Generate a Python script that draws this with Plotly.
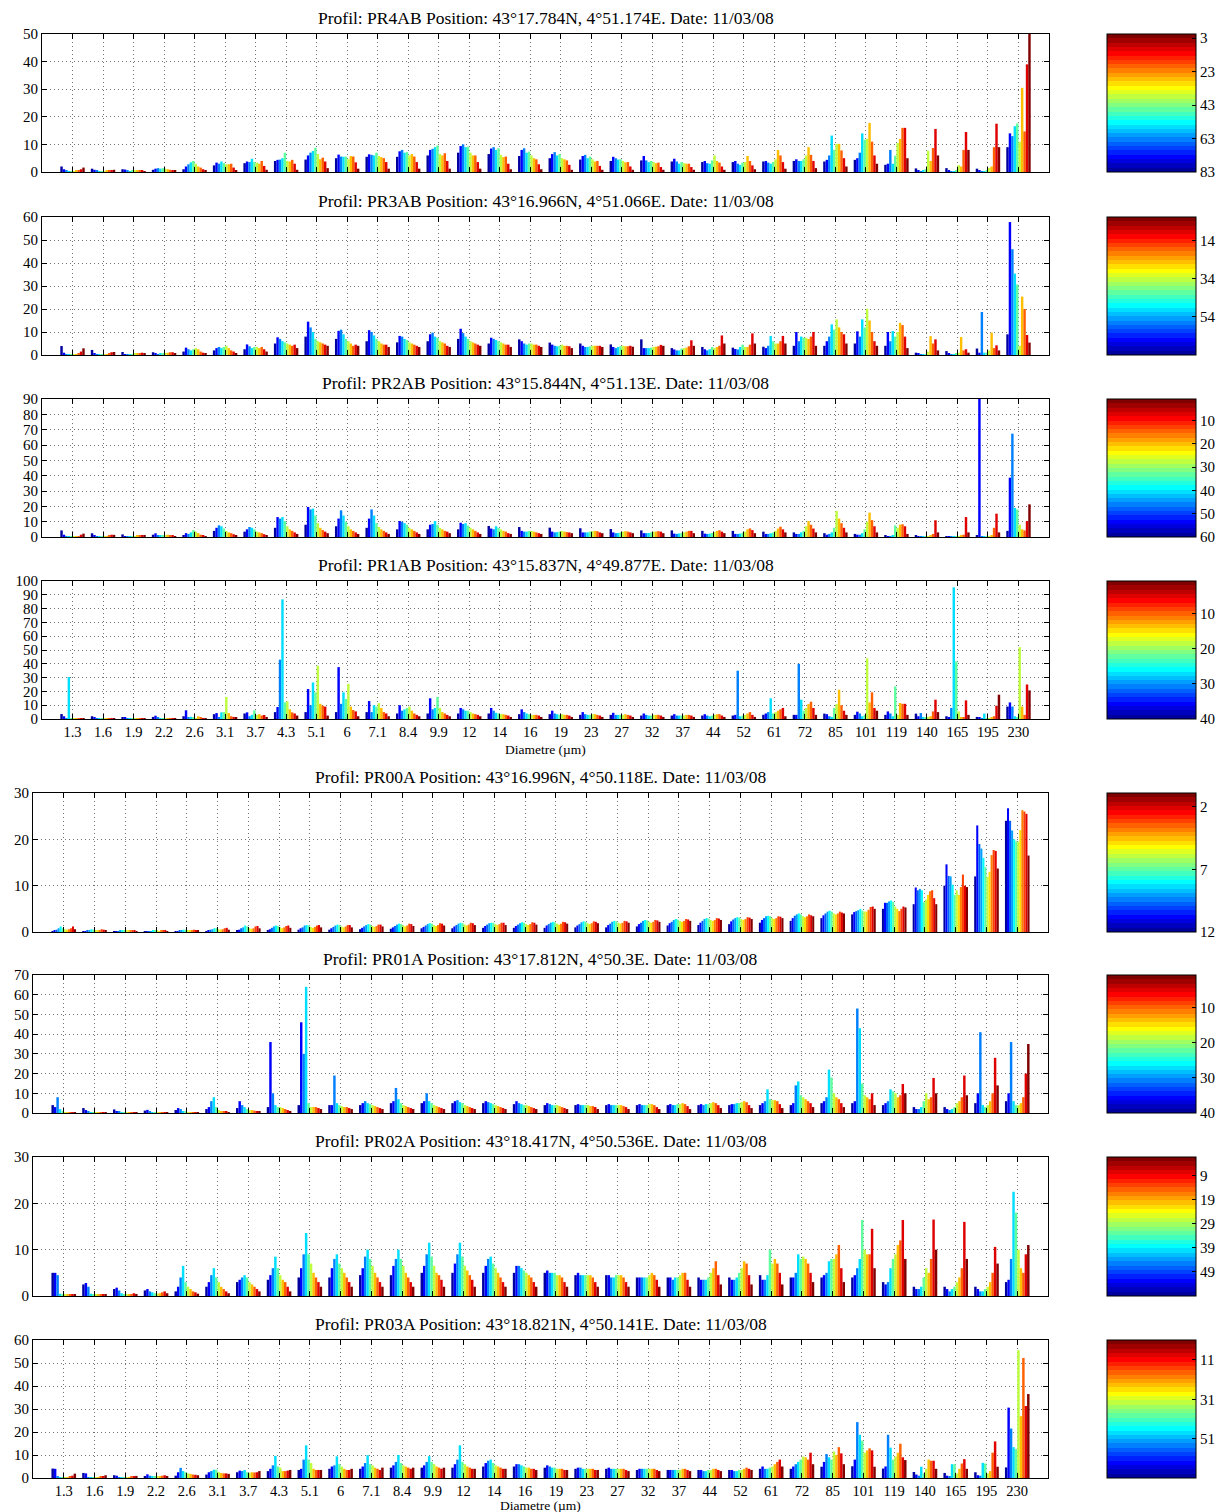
import math
import plotly.graph_objects as go

# ---------------- data ----------------
DIAM_LABELS = ["1.3", "1.6", "1.9", "2.2", "2.6", "3.1", "3.7", "4.3", "5.1", "6", "7.1", "8.4",
               "9.9", "12", "14", "16", "19", "23", "27", "32", "37", "44", "52", "61", "72",
               "85", "101", "119", "140", "165", "195", "230"]

TITLES = [
    "Profil: PR4AB Position: 43°17.784N, 4°51.174E. Date: 11/03/08",
    "Profil: PR3AB Position: 43°16.966N, 4°51.066E. Date: 11/03/08",
    "Profil: PR2AB Position: 43°15.844N, 4°51.13E. Date: 11/03/08",
    "Profil: PR1AB Position: 43°15.837N, 4°49.877E. Date: 11/03/08",
    "Profil: PR00A Position: 43°16.996N, 4°50.118E. Date: 11/03/08",
    "Profil: PR01A Position: 43°17.812N, 4°50.3E. Date: 11/03/08",
    "Profil: PR02A Position: 43°18.417N, 4°50.536E. Date: 11/03/08",
    "Profil: PR03A Position: 43°18.821N, 4°50.141E. Date: 11/03/08",
]

Y_MAX = [50, 60, 90, 100, 30, 70, 30, 60]

CBAR_TICKS = [[3, 23, 43, 63, 83], [14, 34, 54], [10, 20, 30, 40, 50, 60], [10, 20, 30, 40],
              [2, 7, 12], [10, 20, 30, 40], [9, 19, 29, 39, 49], [11, 31, 51]]
DEPTH_MIN = [0.6, 1.4, 0.75, 0.8, 0.9, 0.6, 1.1, 0.9]
DEPTH_MAX = [83, 74, 60, 40, 12, 40, 59, 71]

# volume concentration per size class (rows) for depth bins from deep (blue) to shallow (red)
PR4AB = [
    [2.0, 1.0, 0.5, 0.3, 0.3, 0.3, 0.4, 0.6, 1.0, 1.6],
    [1.2, 0.8, 0.4, 0.3, 0.3, 0.3, 0.4, 0.5, 0.7, 0.8],
    [1.0, 0.9, 0.5, 0.3, 0.4, 0.6, 0.5, 0.4, 0.4, 0.3],
    [0.8, 1.2, 1.4, 1.2, 1.4, 1.2, 1.0, 0.8, 0.6, 0.4],
    [1.0, 2.0, 2.8, 3.5, 4.0, 3.0, 2.0, 1.6, 1.0, 0.4],
    [2.4, 3.4, 3.0, 3.8, 3.2, 2.8, 2.8, 3.0, 1.6, 0.6],
    [3.2, 3.8, 3.6, 4.8, 3.6, 3.4, 3.0, 4.0, 2.2, 0.8],
    [4.0, 4.4, 4.5, 5.0, 7.0, 4.0, 3.8, 4.4, 3.0, 0.8],
    [4.5, 6.0, 7.0, 7.6, 8.8, 6.5, 4.6, 5.2, 3.8, 1.4],
    [5.0, 6.3, 5.6, 5.5, 5.6, 4.6, 5.8, 5.6, 3.5, 1.2],
    [5.5, 6.4, 6.2, 6.0, 7.0, 5.8, 5.4, 5.0, 3.6, 1.2],
    [5.5, 7.5, 8.0, 7.0, 7.2, 6.0, 6.5, 5.6, 3.6, 1.2],
    [6.0, 8.0, 8.4, 9.0, 9.6, 6.5, 6.0, 6.8, 4.0, 1.2],
    [7.0, 9.4, 10.0, 9.0, 9.2, 7.0, 6.0, 6.0, 3.6, 1.2],
    [6.5, 8.5, 9.0, 8.0, 8.6, 6.2, 5.4, 5.6, 3.0, 1.0],
    [5.8, 8.0, 8.6, 7.0, 7.4, 6.0, 5.0, 4.6, 2.8, 1.0],
    [5.0, 6.5, 7.2, 6.0, 6.5, 5.0, 4.6, 4.2, 2.6, 0.8],
    [4.5, 5.8, 6.2, 5.0, 5.6, 4.6, 3.8, 4.0, 2.2, 0.8],
    [4.0, 5.5, 5.0, 4.5, 4.6, 4.0, 3.5, 3.6, 2.0, 0.8],
    [4.2, 5.8, 4.2, 3.6, 4.0, 3.6, 3.2, 3.4, 1.8, 0.8],
    [3.8, 4.8, 3.8, 3.0, 3.6, 3.2, 3.0, 3.0, 1.8, 0.8],
    [3.6, 4.0, 3.2, 3.0, 4.2, 6.0, 4.0, 3.4, 2.0, 0.8],
    [3.6, 4.0, 3.0, 2.6, 3.4, 3.6, 5.8, 4.0, 2.4, 1.0],
    [3.8, 4.0, 3.4, 3.0, 3.6, 4.6, 8.0, 6.0, 3.6, 1.2],
    [4.0, 4.6, 4.0, 4.0, 4.6, 6.0, 9.0, 6.2, 4.0, 1.4],
    [3.8, 4.4, 6.0, 13.2, 8.0, 10.2, 10.2, 7.8, 5.0, 2.0],
    [4.4, 5.0, 7.0, 14.0, 11.7, 12.0, 17.8, 11.0, 6.0, 3.0],
    [2.6, 3.0, 8.0, 3.0, 5.9, 10.5, 12.0, 16.0, 16.0, 5.0],
    [1.3, 0.6, 0.3, 0.4, 1.0, 7.7, 4.0, 8.7, 15.6, 6.0],
    [1.4, 0.4, 0.3, 0.3, 0.6, 2.5, 2.0, 8.0, 14.5, 8.0],
    [1.2, 0.4, 0.3, 0.3, 0.5, 1.5, 2.0, 9.0, 17.5, 9.0],
    [9.0, 14.0, 13.0, 16.6, 17.6, 11.0, 30.5, 14.7, 39.0, 51.0],
]

PR3AB = [
    [3.9, 1.0, 0.3, 0.2, 0.2, 0.2, 0.3, 0.5, 1.5, 2.9],
    [2.2, 0.6, 0.2, 0.2, 0.2, 0.3, 0.4, 0.6, 1.2, 1.3],
    [1.3, 0.4, 0.2, 0.2, 0.3, 0.5, 0.6, 0.8, 1.0, 0.8],
    [1.2, 0.6, 0.4, 0.5, 0.6, 0.8, 1.0, 1.2, 1.2, 0.8],
    [1.5, 3.2, 2.5, 2.0, 2.5, 3.0, 2.5, 1.5, 1.0, 0.5],
    [2.0, 3.0, 3.5, 3.0, 3.5, 4.0, 3.0, 2.0, 1.5, 0.8],
    [2.5, 4.6, 3.8, 3.0, 3.5, 3.5, 3.0, 3.5, 2.5, 1.5],
    [5.0, 7.7, 7.0, 6.0, 5.5, 5.0, 4.5, 4.0, 4.5, 3.0],
    [8.0, 14.5, 12.0, 10.0, 7.0, 6.0, 5.5, 5.0, 4.5, 4.0],
    [7.0, 10.5, 11.0, 9.0, 7.0, 6.0, 5.0, 4.0, 4.5, 4.0],
    [6.0, 10.8, 10.0, 8.5, 7.0, 6.0, 5.0, 4.5, 4.5, 3.5],
    [5.5, 8.3, 8.0, 7.0, 6.5, 5.5, 5.0, 4.5, 4.0, 3.5],
    [6.0, 9.0, 9.7, 8.0, 7.5, 6.0, 5.5, 5.0, 4.0, 3.5],
    [7.0, 11.4, 9.5, 8.0, 7.0, 6.0, 5.5, 5.0, 4.5, 4.0],
    [5.0, 7.5, 7.0, 6.5, 6.0, 5.5, 5.0, 4.5, 4.5, 3.5],
    [6.8, 6.0, 5.0, 4.5, 5.0, 5.0, 4.5, 4.5, 4.0, 3.5],
    [5.4, 4.5, 4.0, 3.8, 4.0, 4.5, 4.0, 4.0, 3.8, 3.0],
    [5.0, 4.0, 3.5, 3.5, 3.8, 4.0, 4.0, 4.0, 4.0, 3.5],
    [4.6, 3.5, 3.0, 3.5, 3.8, 4.0, 3.8, 3.8, 4.0, 3.6],
    [6.8, 3.0, 3.0, 3.0, 3.2, 3.5, 3.6, 3.8, 4.4, 4.0],
    [3.0, 2.4, 2.0, 2.0, 2.8, 3.0, 3.2, 3.8, 6.4, 4.0],
    [3.5, 2.5, 2.0, 2.5, 3.5, 3.0, 3.5, 4.0, 8.5, 5.0],
    [3.2, 2.6, 2.4, 3.5, 4.5, 3.5, 3.5, 4.5, 9.4, 5.0],
    [3.6, 3.0, 4.0, 8.3, 6.0, 5.0, 5.0, 6.0, 8.3, 5.0],
    [4.0, 10.0, 6.0, 8.0, 7.5, 7.5, 7.0, 8.0, 10.0, 4.0],
    [4.0, 6.0, 8.0, 13.3, 11.0, 15.5, 12.0, 10.0, 9.0, 5.0],
    [5.0, 10.3, 8.0, 15.5, 12.0, 20.1, 15.0, 10.0, 6.0, 4.0],
    [4.0, 10.0, 6.0, 10.4, 8.0, 10.0, 14.0, 13.0, 8.0, 3.0],
    [1.0, 0.6, 0.4, 0.3, 0.4, 1.5, 8.2, 5.0, 6.8, 2.0],
    [1.7, 0.5, 0.3, 0.3, 0.5, 1.0, 7.8, 2.0, 2.5, 1.0],
    [2.8, 1.0, 18.7, 1.0, 1.0, 2.0, 9.7, 3.0, 4.2, 2.0],
    [9.0, 57.8, 46.0, 35.4, 30.7, 4.0, 25.4, 20.0, 8.7, 5.4],
]

PR2AB = [
    [4.3, 1.5, 0.4, 0.2, 0.2, 0.2, 0.3, 0.6, 1.5, 2.2],
    [2.4, 1.0, 0.3, 0.2, 0.2, 0.3, 0.4, 0.8, 1.5, 1.4],
    [1.7, 0.6, 0.3, 0.2, 0.3, 0.5, 0.8, 1.0, 1.2, 0.8],
    [1.5, 2.4, 1.0, 0.8, 1.0, 1.2, 1.5, 1.2, 0.8, 0.5],
    [1.0, 2.5, 2.0, 3.0, 4.5, 3.5, 2.5, 1.5, 1.0, 0.5],
    [4.0, 6.0, 7.6, 7.0, 5.5, 4.0, 3.0, 2.5, 1.8, 1.0],
    [3.5, 5.0, 6.5, 6.0, 5.0, 3.5, 3.0, 2.5, 1.8, 1.0],
    [6.0, 13.0, 12.0, 13.0, 10.4, 7.0, 5.0, 4.0, 3.0, 2.0],
    [8.0, 19.6, 18.0, 18.5, 14.0, 9.0, 6.0, 4.5, 3.5, 2.5],
    [7.0, 12.0, 17.4, 14.0, 10.0, 7.0, 5.0, 4.0, 3.0, 2.0],
    [6.0, 12.0, 18.0, 14.0, 9.0, 6.5, 5.0, 4.0, 3.0, 2.0],
    [5.0, 10.4, 10.0, 9.0, 8.0, 6.0, 5.0, 4.0, 3.0, 2.0],
    [5.0, 8.0, 8.5, 10.4, 8.0, 6.0, 5.0, 4.0, 3.5, 2.5],
    [5.0, 9.3, 8.5, 9.0, 7.5, 6.0, 5.0, 4.0, 3.0, 2.0],
    [7.2, 5.5, 5.0, 7.0, 6.0, 5.0, 4.0, 3.5, 2.5, 2.0],
    [6.5, 4.0, 3.5, 3.5, 4.0, 4.0, 3.5, 3.0, 2.5, 2.0],
    [6.1, 3.5, 3.0, 3.2, 3.5, 4.0, 3.5, 3.2, 3.0, 2.5],
    [5.7, 3.0, 3.0, 3.0, 3.5, 3.8, 4.0, 3.8, 3.0, 2.5],
    [5.2, 3.0, 2.5, 2.6, 3.0, 3.5, 3.8, 3.5, 3.0, 2.5],
    [4.3, 2.5, 2.5, 2.6, 3.0, 3.5, 3.5, 3.8, 3.5, 2.5],
    [4.3, 2.2, 2.0, 2.3, 2.6, 3.0, 3.5, 4.0, 4.0, 2.5],
    [4.0, 2.2, 2.0, 2.2, 2.6, 3.2, 4.0, 4.4, 3.5, 2.5],
    [4.0, 2.0, 2.0, 2.2, 2.8, 3.5, 5.0, 5.6, 4.5, 2.5],
    [3.5, 2.0, 2.0, 2.4, 3.0, 4.0, 5.5, 6.7, 5.0, 3.0],
    [3.0, 2.0, 2.0, 3.0, 4.0, 7.0, 10.4, 8.0, 5.5, 3.0],
    [2.5, 1.5, 2.0, 3.0, 6.0, 17.0, 12.0, 9.0, 6.0, 3.0],
    [2.0, 1.5, 1.5, 2.5, 5.0, 10.0, 15.9, 11.0, 7.0, 3.0],
    [1.3, 0.5, 0.5, 1.0, 7.6, 6.0, 8.0, 8.3, 7.0, 2.0],
    [0.8, 0.3, 0.2, 0.2, 0.3, 0.5, 1.0, 2.0, 10.9, 3.0],
    [0.6, 0.3, 0.2, 0.2, 0.2, 0.4, 0.8, 1.5, 13.0, 3.0],
    [1.0, 90.0, 0.3, 0.2, 0.3, 0.4, 1.0, 6.0, 15.2, 3.0],
    [4.0, 38.7, 67.4, 19.0, 18.0, 8.0, 5.0, 4.3, 10.4, 21.3],
]

PR1AB = [
    [3.6, 2.0, 0.5, 30.4, 0.4, 0.3, 0.3, 0.3, 0.4, 0.5],
    [2.0, 1.2, 0.5, 0.3, 0.3, 0.3, 0.3, 0.3, 0.3, 0.3],
    [1.4, 1.2, 0.5, 0.3, 0.3, 0.3, 0.3, 0.3, 0.3, 0.3],
    [1.5, 2.4, 0.8, 0.5, 0.4, 0.3, 0.3, 0.3, 0.3, 0.3],
    [2.0, 6.3, 1.0, 1.6, 0.8, 0.6, 2.0, 0.8, 0.5, 0.3],
    [3.5, 4.3, 1.5, 4.8, 5.0, 16.0, 4.3, 2.0, 1.5, 0.8],
    [4.0, 4.8, 2.0, 3.0, 6.3, 3.0, 3.5, 2.5, 2.9, 1.5],
    [5.0, 8.7, 43.0, 86.7, 12.0, 12.8, 7.0, 4.8, 4.0, 2.5],
    [5.0, 21.7, 10.0, 26.5, 19.3, 38.6, 11.0, 9.6, 9.0, 2.5],
    [5.0, 37.6, 11.0, 19.3, 14.5, 25.5, 9.0, 6.5, 5.5, 2.0],
    [5.0, 13.0, 5.0, 10.0, 9.0, 11.5, 8.0, 5.0, 4.0, 2.0],
    [4.0, 10.0, 6.0, 7.0, 8.0, 9.0, 6.0, 4.0, 3.0, 2.0],
    [4.0, 15.0, 7.0, 8.0, 16.0, 8.0, 5.0, 4.0, 3.0, 2.0],
    [4.0, 8.0, 7.0, 6.0, 6.0, 5.0, 4.0, 3.5, 3.0, 2.0],
    [4.0, 8.0, 6.0, 4.5, 4.0, 3.5, 3.5, 3.0, 2.5, 1.5],
    [3.5, 7.0, 5.0, 4.0, 3.5, 3.0, 3.0, 3.0, 2.5, 1.5],
    [3.5, 6.0, 4.0, 3.5, 3.0, 3.5, 3.0, 3.0, 2.5, 1.5],
    [3.0, 5.0, 3.5, 3.0, 3.0, 3.5, 3.5, 3.0, 2.5, 1.5],
    [3.0, 4.5, 3.0, 3.0, 3.0, 3.0, 3.5, 3.0, 2.5, 1.5],
    [2.5, 4.0, 3.0, 2.5, 2.5, 3.0, 3.0, 3.0, 2.5, 1.5],
    [2.5, 3.5, 2.5, 2.5, 2.5, 2.5, 3.0, 3.0, 2.5, 1.5],
    [2.5, 3.5, 2.5, 2.0, 2.5, 3.0, 3.5, 3.5, 2.5, 1.5],
    [2.5, 3.0, 35.0, 2.0, 2.5, 3.0, 4.0, 5.0, 3.0, 1.5],
    [3.0, 4.0, 5.0, 15.0, 4.0, 5.0, 6.0, 7.0, 8.0, 2.0],
    [3.0, 3.0, 40.0, 14.0, 6.0, 8.0, 10.8, 12.5, 8.0, 3.0],
    [3.9, 3.5, 2.0, 1.5, 8.0, 10.8, 21.2, 10.0, 6.0, 3.0],
    [3.0, 5.3, 4.0, 2.0, 3.0, 44.0, 12.0, 19.3, 8.0, 6.0],
    [3.0, 5.5, 4.0, 2.0, 23.6, 3.0, 11.6, 11.0, 11.0, 3.0],
    [3.9, 2.0, 4.3, 1.5, 1.0, 1.5, 2.0, 5.5, 14.0, 5.0],
    [2.0, 1.0, 8.0, 95.4, 41.7, 5.5, 1.0, 1.0, 13.5, 3.0],
    [1.5, 0.8, 0.5, 3.9, 0.5, 0.5, 1.0, 2.0, 9.6, 17.6],
    [9.0, 12.0, 9.0, 2.0, 1.0, 52.0, 9.0, 3.0, 25.0, 20.7],
]

PR00A = [
    [0.2, 0.3, 0.5, 0.8, 1.2, 0.8, 0.6, 0.5, 0.6, 0.8, 1.2, 0.6],
    [0.1, 0.2, 0.3, 0.4, 0.6, 0.5, 0.4, 0.3, 0.4, 0.6, 0.5, 0.3],
    [0.1, 0.1, 0.2, 0.3, 0.4, 0.4, 0.3, 0.3, 0.3, 0.4, 0.3, 0.2],
    [0.1, 0.1, 0.2, 0.2, 0.3, 0.3, 0.3, 0.2, 0.3, 0.3, 0.3, 0.2],
    [0.1, 0.2, 0.3, 0.4, 0.5, 0.5, 0.4, 0.3, 0.4, 0.5, 0.4, 0.3],
    [0.2, 0.3, 0.5, 0.6, 0.8, 0.9, 0.6, 0.5, 0.6, 0.8, 0.9, 0.5],
    [0.3, 0.5, 0.8, 1.0, 1.4, 1.2, 0.8, 0.7, 0.8, 1.2, 1.3, 0.8],
    [0.4, 0.6, 0.9, 1.2, 1.4, 1.3, 1.0, 0.8, 1.0, 1.3, 1.4, 0.9],
    [0.5, 0.8, 1.0, 1.4, 1.5, 1.4, 1.1, 0.9, 1.1, 1.4, 1.5, 1.0],
    [0.5, 0.8, 1.1, 1.4, 1.6, 1.5, 1.2, 1.0, 1.2, 1.5, 1.5, 1.0],
    [0.6, 0.9, 1.2, 1.5, 1.7, 1.6, 1.3, 1.1, 1.3, 1.6, 1.6, 1.2],
    [0.7, 1.0, 1.3, 1.6, 1.8, 1.7, 1.4, 1.2, 1.4, 1.8, 1.7, 1.3],
    [0.8, 1.1, 1.4, 1.7, 1.9, 1.8, 1.5, 1.3, 1.5, 1.9, 1.8, 1.4],
    [0.8, 1.2, 1.5, 1.8, 2.0, 1.9, 1.6, 1.4, 1.6, 2.0, 1.9, 1.5],
    [0.9, 1.3, 1.6, 1.9, 2.0, 2.0, 1.7, 1.5, 1.7, 2.0, 2.0, 1.5],
    [0.9, 1.3, 1.6, 1.9, 2.1, 2.0, 1.7, 1.5, 1.7, 2.1, 2.0, 1.6],
    [0.9, 1.4, 1.7, 2.0, 2.2, 2.1, 1.8, 1.6, 1.8, 2.2, 2.1, 1.8],
    [1.0, 1.4, 1.7, 2.1, 2.3, 2.2, 1.9, 1.7, 1.9, 2.3, 2.2, 1.9],
    [1.0, 1.5, 1.8, 2.2, 2.4, 2.3, 2.0, 1.8, 2.0, 2.4, 2.3, 2.0],
    [1.2, 1.7, 2.0, 2.4, 2.6, 2.5, 2.2, 2.0, 2.2, 2.6, 2.5, 2.2],
    [1.4, 1.9, 2.2, 2.6, 2.8, 2.7, 2.4, 2.2, 2.4, 2.8, 2.7, 2.4],
    [1.5, 2.0, 2.4, 2.8, 3.0, 2.9, 2.6, 2.4, 2.6, 3.0, 2.9, 2.6],
    [1.7, 2.3, 2.7, 3.0, 3.2, 3.1, 2.8, 2.6, 2.8, 3.2, 3.1, 2.8],
    [2.0, 2.6, 3.0, 3.4, 3.5, 3.4, 3.0, 2.8, 3.0, 3.4, 3.3, 3.0],
    [2.4, 3.0, 3.5, 3.8, 4.0, 3.8, 3.4, 3.2, 3.4, 3.8, 3.6, 3.4],
    [3.0, 3.6, 4.0, 4.4, 4.6, 4.4, 4.0, 3.8, 4.0, 4.4, 4.2, 4.0],
    [3.8, 4.3, 4.5, 4.7, 5.0, 4.6, 4.4, 4.4, 4.8, 5.4, 5.5, 5.0],
    [5.0, 6.3, 6.3, 6.6, 6.8, 6.5, 5.5, 5.0, 4.5, 5.0, 5.5, 5.3],
    [6.0, 9.6, 9.0, 9.3, 9.0, 6.4, 7.0, 8.0, 8.8, 9.0, 7.3, 6.0],
    [10.0, 14.6, 12.1, 12.0, 10.2, 8.0, 9.0, 8.0, 9.7, 12.4, 10.0, 9.7],
    [12.0, 23.0, 19.0, 18.0, 16.0, 14.0, 11.9, 13.0, 16.6, 17.7, 17.5, 13.7],
    [24.0, 26.7, 24.0, 21.9, 20.0, 19.6, 19.5, 22.0, 26.3, 26.0, 25.5, 16.5],
]

PR01A = [
    [4.0, 3.0, 8.0, 2.0, 1.0, 0.5, 0.5, 0.5, 0.5, 0.5],
    [2.5, 1.5, 1.0, 0.5, 0.4, 0.3, 0.3, 0.3, 0.3, 0.3],
    [1.8, 1.0, 0.6, 0.4, 0.3, 0.3, 0.3, 0.3, 0.3, 0.3],
    [1.2, 1.6, 0.8, 0.5, 0.4, 0.3, 0.3, 0.3, 0.3, 0.3],
    [1.5, 2.5, 2.0, 1.0, 0.8, 0.5, 0.5, 0.4, 0.4, 0.3],
    [2.0, 3.0, 6.0, 8.0, 3.0, 1.5, 1.0, 0.8, 0.6, 0.5],
    [2.5, 6.0, 4.0, 3.0, 2.0, 1.5, 1.5, 1.2, 1.0, 0.6],
    [3.0, 36.0, 10.0, 4.0, 3.0, 3.0, 2.5, 2.0, 1.5, 1.0],
    [4.0, 46.0, 30.0, 64.0, 5.0, 3.0, 3.0, 3.0, 2.5, 2.0],
    [4.0, 4.0, 19.0, 5.0, 4.0, 3.5, 3.0, 3.0, 2.5, 2.0],
    [4.0, 5.0, 6.0, 5.0, 4.5, 4.0, 3.5, 3.0, 2.5, 2.0],
    [5.0, 6.0, 12.7, 7.0, 5.0, 4.0, 3.5, 3.0, 2.5, 2.0],
    [5.0, 6.0, 10.0, 6.0, 5.0, 4.0, 3.5, 3.0, 2.5, 2.0],
    [5.0, 6.0, 6.5, 5.5, 5.0, 4.0, 3.5, 3.0, 2.5, 2.0],
    [5.0, 6.0, 5.5, 5.0, 4.5, 4.0, 3.5, 3.0, 2.5, 2.0],
    [4.5, 6.0, 5.0, 4.5, 4.0, 4.0, 3.5, 3.0, 2.5, 2.0],
    [4.0, 5.0, 4.5, 4.0, 4.0, 4.0, 3.5, 3.0, 2.5, 2.0],
    [4.0, 4.5, 4.0, 4.0, 4.0, 4.0, 3.5, 3.5, 3.0, 2.0],
    [4.0, 4.5, 4.0, 4.0, 4.0, 4.0, 4.0, 3.5, 3.0, 2.0],
    [4.0, 4.5, 4.0, 4.0, 4.0, 4.5, 4.5, 4.0, 3.0, 2.0],
    [4.0, 4.5, 4.0, 4.0, 4.5, 4.5, 5.0, 4.5, 3.5, 2.0],
    [4.0, 4.5, 4.0, 4.5, 4.5, 5.0, 5.5, 5.0, 4.0, 2.5],
    [4.0, 4.5, 4.5, 5.0, 5.0, 5.5, 6.0, 5.5, 4.0, 2.5],
    [4.0, 5.0, 6.0, 12.0, 7.0, 6.5, 6.5, 6.0, 4.5, 2.5],
    [4.0, 5.0, 14.0, 16.0, 9.0, 8.0, 7.0, 6.0, 5.0, 3.0],
    [5.0, 6.0, 8.0, 22.0, 18.0, 10.0, 8.0, 7.0, 5.0, 3.0],
    [5.0, 6.0, 53.0, 43.0, 15.0, 9.0, 8.0, 7.0, 10.0, 4.0],
    [4.0, 5.0, 6.0, 12.0, 11.0, 10.0, 8.0, 9.0, 14.7, 10.0],
    [3.0, 2.0, 2.0, 3.0, 6.0, 10.0, 7.0, 8.0, 17.8, 10.0],
    [3.0, 2.0, 1.5, 2.0, 3.0, 5.0, 6.0, 8.0, 19.0, 9.0],
    [5.0, 10.0, 41.0, 4.0, 3.0, 4.0, 6.0, 10.0, 28.0, 14.0],
    [6.0, 10.0, 36.0, 6.0, 4.0, 4.0, 5.0, 8.0, 20.0, 35.0],
]

PR02A = [
    [5.0, 5.0, 4.5, 0.5, 0.3, 0.3, 0.3, 0.3, 0.3, 0.3],
    [2.5, 2.8, 2.0, 0.5, 0.3, 0.3, 0.3, 0.3, 0.3, 0.3],
    [1.5, 1.8, 1.2, 0.6, 0.4, 0.3, 0.3, 0.4, 0.6, 0.4],
    [1.2, 1.5, 1.0, 0.8, 0.6, 0.5, 0.6, 0.8, 1.0, 0.6],
    [1.0, 2.0, 4.0, 6.5, 3.0, 2.0, 1.5, 1.0, 0.8, 0.5],
    [2.0, 3.0, 4.5, 6.0, 4.0, 3.0, 2.0, 1.5, 1.0, 0.6],
    [3.0, 3.5, 4.0, 4.5, 4.0, 3.0, 2.5, 2.0, 1.5, 1.0],
    [3.5, 4.5, 6.0, 8.5, 6.0, 4.5, 3.5, 3.0, 2.0, 1.0],
    [4.0, 6.0, 9.0, 13.6, 9.0, 7.0, 5.0, 4.0, 3.0, 2.0],
    [4.0, 6.0, 8.0, 9.0, 7.0, 6.0, 5.0, 4.0, 3.0, 2.0],
    [4.5, 6.0, 8.5, 10.0, 8.0, 6.5, 5.0, 4.0, 3.0, 2.0],
    [4.5, 6.5, 8.0, 10.0, 8.0, 6.5, 5.0, 4.0, 3.0, 2.0],
    [5.0, 6.5, 9.0, 11.5, 8.5, 6.5, 5.0, 4.5, 3.5, 2.0],
    [5.0, 7.0, 9.0, 11.5, 8.5, 6.5, 5.5, 4.5, 3.5, 2.0],
    [5.0, 6.5, 8.0, 8.5, 7.0, 6.0, 5.0, 4.0, 3.0, 2.0],
    [5.0, 6.5, 6.5, 6.0, 5.5, 5.0, 4.5, 4.0, 3.0, 2.0],
    [5.0, 5.5, 5.0, 5.0, 5.0, 4.5, 4.5, 4.0, 3.0, 2.0],
    [4.5, 5.0, 4.5, 4.5, 4.5, 4.5, 4.5, 4.0, 3.0, 2.0],
    [4.5, 4.5, 4.0, 4.0, 4.5, 4.5, 4.5, 4.0, 3.0, 2.0],
    [4.0, 4.0, 4.0, 4.0, 4.0, 4.5, 5.0, 4.5, 3.5, 2.0],
    [4.0, 4.0, 3.5, 4.0, 4.0, 4.5, 5.0, 5.0, 3.5, 2.0],
    [4.0, 3.5, 3.5, 3.5, 4.0, 5.0, 6.0, 7.5, 4.5, 2.5],
    [4.0, 3.5, 3.5, 4.0, 5.0, 6.0, 7.5, 7.0, 4.5, 2.5],
    [4.5, 3.5, 3.5, 4.5, 10.0, 7.0, 8.0, 7.0, 5.0, 2.5],
    [4.0, 4.0, 5.0, 9.0, 8.0, 8.5, 8.0, 7.0, 5.0, 3.0],
    [4.0, 4.5, 5.0, 7.5, 8.0, 8.0, 9.0, 11.0, 6.0, 3.0],
    [4.0, 4.5, 6.0, 8.0, 16.4, 10.0, 9.0, 9.0, 14.5, 6.0],
    [3.0, 2.5, 3.0, 6.0, 8.0, 9.0, 11.0, 12.0, 16.4, 8.0],
    [2.0, 1.5, 1.5, 2.0, 4.0, 6.0, 5.0, 8.0, 16.5, 10.0],
    [2.0, 1.5, 1.0, 1.5, 2.0, 3.0, 4.0, 6.0, 16.0, 8.0],
    [2.0, 1.5, 1.0, 1.0, 1.5, 2.0, 3.0, 5.0, 10.6, 7.0],
    [3.0, 3.5, 8.0, 22.5, 18.0, 10.0, 6.0, 5.0, 9.0, 11.0],
]

PR03A = [
    [4.1, 4.0, 0.5, 0.3, 0.3, 0.3, 0.3, 0.5, 1.0, 1.9],
    [2.2, 2.0, 0.4, 0.3, 0.3, 0.3, 0.3, 0.5, 0.8, 1.2],
    [1.2, 1.0, 0.3, 0.3, 0.3, 0.3, 0.4, 0.6, 0.8, 0.9],
    [0.8, 1.6, 1.0, 0.6, 0.5, 0.6, 0.8, 1.0, 1.2, 0.9],
    [1.0, 2.5, 4.4, 3.0, 2.5, 2.0, 1.8, 1.5, 1.4, 1.2],
    [1.5, 2.5, 3.0, 3.6, 3.6, 2.5, 2.2, 2.0, 2.0, 1.8],
    [2.5, 3.2, 3.0, 3.5, 2.5, 2.3, 2.5, 2.4, 2.5, 3.0],
    [3.0, 4.0, 5.5, 9.6, 5.0, 4.5, 3.0, 3.0, 3.2, 3.5],
    [3.5, 4.0, 8.0, 14.2, 8.0, 6.5, 4.0, 3.5, 3.5, 3.5],
    [4.0, 5.0, 5.5, 9.4, 6.0, 5.0, 4.0, 3.5, 3.5, 4.0],
    [4.0, 5.0, 6.5, 9.9, 6.0, 5.5, 4.5, 4.0, 3.5, 4.5],
    [4.5, 5.5, 7.0, 10.0, 6.5, 5.5, 5.0, 4.5, 4.0, 4.5],
    [4.5, 5.5, 7.0, 9.5, 7.0, 6.0, 5.0, 4.5, 4.0, 4.5],
    [4.5, 6.0, 8.0, 14.2, 7.0, 6.0, 5.0, 4.5, 4.0, 4.0],
    [5.0, 6.5, 7.5, 8.0, 6.5, 5.5, 5.0, 4.5, 4.0, 4.0],
    [5.0, 6.0, 6.0, 5.5, 5.0, 4.5, 4.5, 4.0, 4.0, 3.5],
    [4.5, 5.5, 5.0, 4.5, 4.5, 4.0, 4.0, 4.0, 3.5, 3.5],
    [4.0, 4.5, 4.5, 4.0, 4.0, 4.0, 4.0, 4.0, 3.5, 3.5],
    [4.0, 4.5, 4.0, 4.0, 4.0, 4.0, 4.0, 4.0, 3.5, 3.0],
    [3.5, 4.0, 4.0, 4.0, 4.0, 4.0, 4.0, 4.0, 3.5, 3.0],
    [3.5, 3.5, 3.5, 3.5, 3.5, 3.5, 4.0, 4.0, 3.5, 3.0],
    [3.5, 3.5, 3.0, 3.0, 3.5, 3.5, 4.0, 4.0, 3.5, 3.0],
    [3.5, 3.5, 3.0, 3.0, 3.5, 3.5, 4.0, 4.5, 4.0, 3.5],
    [4.0, 5.0, 4.0, 4.0, 4.5, 5.0, 6.0, 7.0, 8.0, 5.0],
    [4.0, 5.0, 6.0, 7.0, 8.0, 9.3, 9.0, 8.0, 11.0, 6.0],
    [4.9, 7.0, 10.4, 9.0, 8.0, 11.5, 10.0, 13.4, 10.7, 6.0],
    [5.1, 8.0, 24.3, 18.8, 16.2, 11.0, 12.0, 12.9, 12.0, 4.9],
    [4.1, 5.0, 18.8, 13.2, 8.0, 9.3, 11.0, 14.9, 9.0, 7.8],
    [2.6, 1.5, 1.0, 4.9, 2.0, 4.0, 8.0, 7.5, 7.5, 4.0],
    [2.2, 1.0, 0.8, 6.0, 6.0, 2.0, 4.0, 6.3, 8.2, 4.0],
    [2.5, 1.2, 1.0, 6.6, 6.3, 2.0, 3.0, 11.0, 15.9, 4.9],
    [4.6, 30.6, 21.5, 13.4, 12.6, 55.6, 26.9, 52.2, 31.3, 36.5],
]

PANELS = [PR4AB, PR3AB, PR2AB, PR1AB, PR00A, PR01A, PR02A, PR03A]

# ---------------- style / geometry ----------------
W, H = 1216, 1512
FONT = "Liberation Serif, Times New Roman, serif"
AX_TOP = [34, 217, 399, 581, 793, 975, 1157, 1340]
AX_BOT = [172, 355, 537, 719, 932, 1113, 1296, 1478]
AX_LEFT = [42, 42, 42, 42, 33, 33, 33, 33]
AX_RIGHT = [1049, 1049, 1049, 1049, 1048, 1048, 1048, 1048]
CB_LEFT, CB_W = 1107, 89


def matlab_jet(m):
    n = math.ceil(m / 4)
    u = [i / n for i in range(1, n + 1)] + [1.0] * (n - 1) + [i / n for i in range(n, 0, -1)]
    g0 = math.ceil(n / 2) - (1 if m % 4 == 1 else 0)
    g = [g0 + i for i in range(1, len(u) + 1)]
    r = [v + n for v in g]
    b = [v - n for v in g]
    J = [[0.0, 0.0, 0.0] for _ in range(m)]
    rr = [v for v in r if v <= m]
    for k, v in enumerate(rr):
        J[v - 1][0] = u[k]
    gg = [v for v in g if v <= m]
    for k, v in enumerate(gg):
        J[v - 1][1] = u[k]
    bb = [v for v in b if v >= 1]
    off = len(u) - len(bb)
    for k, v in enumerate(bb):
        J[v - 1][2] = u[off + k]
    return ["rgb(%d,%d,%d)" % tuple(int(round(c * 255)) for c in row) for row in J]


JET = matlab_jet(32)
CSCALE = []
for i, c in enumerate(JET):
    CSCALE.append([i / 32, c])
    CSCALE.append([(i + 1) / 32, c])

classes = list(range(1, len(DIAM_LABELS) + 1))

fig = go.Figure()
layout = dict(
    width=W, height=H, margin=dict(l=0, r=0, t=0, b=0, pad=0, autoexpand=False),
    paper_bgcolor="white", plot_bgcolor="white",
    barmode="group", bargap=0.2, bargroupgap=0.0,
    showlegend=False, font=dict(family=FONT, color="black", size=15),
)
annotations = []

for p, data in enumerate(PANELS):
    sfx = "" if p == 0 else str(p + 1)
    xa, ya = "x" + sfx, "y" + sfx
    K = len(data[0])
    for j in range(K):
        col = JET[int(round(j * 31 / (K - 1)))]
        fig.add_trace(go.Bar(
            x=classes, y=[row[j] for row in data],
            marker=dict(color=col, line=dict(width=0)),
            xaxis=xa, yaxis=ya, hoverinfo="x+y", showlegend=False,
        ))
    # colorbar
    dmin, dmax = DEPTH_MIN[p], DEPTH_MAX[p]
    fig.add_trace(go.Scatter(
        x=[None], y=[None], mode="markers", xaxis=xa, yaxis=ya, hoverinfo="skip",
        showlegend=False,
        marker=dict(
            color=[-dmax], colorscale=CSCALE, cmin=-dmax, cmax=-dmin, showscale=True,
            colorbar=dict(
                x=CB_LEFT / W, xanchor="left", xref="paper",
                y=1 - AX_TOP[p] / H, yanchor="top", yref="paper",
                len=AX_BOT[p] - AX_TOP[p], lenmode="pixels",
                thickness=CB_W, thicknessmode="pixels",
                xpad=0, ypad=0, outlinewidth=1, outlinecolor="black",
                tickvals=[-v for v in CBAR_TICKS[p]],
                ticktext=[str(v) for v in CBAR_TICKS[p]],
                ticks="inside", ticklen=4, tickcolor="black",
                tickfont=dict(family=FONT, size=15, color="black"),
            ),
        ),
    ))
    xdom = [AX_LEFT[p] / W, AX_RIGHT[p] / W]
    ydom = [1 - AX_BOT[p] / H, 1 - AX_TOP[p] / H]
    show_x = p in (3, 7)
    layout["xaxis" + sfx] = dict(
        domain=xdom, anchor=ya, range=[0, 33], tickmode="array", tickvals=classes,
        ticktext=DIAM_LABELS, showticklabels=show_x,
        tickfont=dict(family=FONT, size=14.5, color="black"),
        ticks="inside", ticklen=5, tickcolor="black",
        showline=True, linecolor="black", linewidth=1, mirror="ticks",
        showgrid=True, gridcolor="rgba(0,0,0,0.55)", griddash="1px,3px", gridwidth=1,
        zeroline=False, fixedrange=True, automargin=False,
    )
    layout["yaxis" + sfx] = dict(
        domain=ydom, anchor=xa, range=[0, Y_MAX[p]], tick0=0, dtick=10,
        tickfont=dict(family=FONT, size=15, color="black"),
        ticks="inside", ticklen=5, tickcolor="black",
        showline=True, linecolor="black", linewidth=1, mirror="ticks",
        showgrid=True, gridcolor="rgba(0,0,0,0.55)", griddash="1px,3px", gridwidth=1,
        zeroline=False, fixedrange=True, automargin=False,
    )
    annotations.append(dict(
        text=TITLES[p], xref="paper", yref="paper",
        x=(AX_LEFT[p] + AX_RIGHT[p]) / 2 / W, y=1 - (AX_TOP[p] - 16) / H,
        xanchor="center", yanchor="middle", showarrow=False,
        font=dict(family=FONT, size=17.5, color="black"),
    ))
    if show_x:
        # x-axis label just under the tick labels, kept inside the page
        label_top = min(AX_BOT[p] + 21, H - 16)
        annotations.append(dict(
            text="Diametre (µm)", xref="paper", yref="paper",
            x=(AX_LEFT[p] + AX_RIGHT[p]) / 2 / W, y=1 - label_top / H,
            xanchor="center", yanchor="top", showarrow=False,
            font=dict(family=FONT, size=13.5, color="black"),
        ))

layout["annotations"] = annotations
fig.update_layout(**layout)
fig.write_html(
    "out.html",
    config={"displayModeBar": False},
    post_script="document.body.style.margin='0px';document.body.style.overflow='hidden';"
                "document.documentElement.style.overflow='hidden';",
)
